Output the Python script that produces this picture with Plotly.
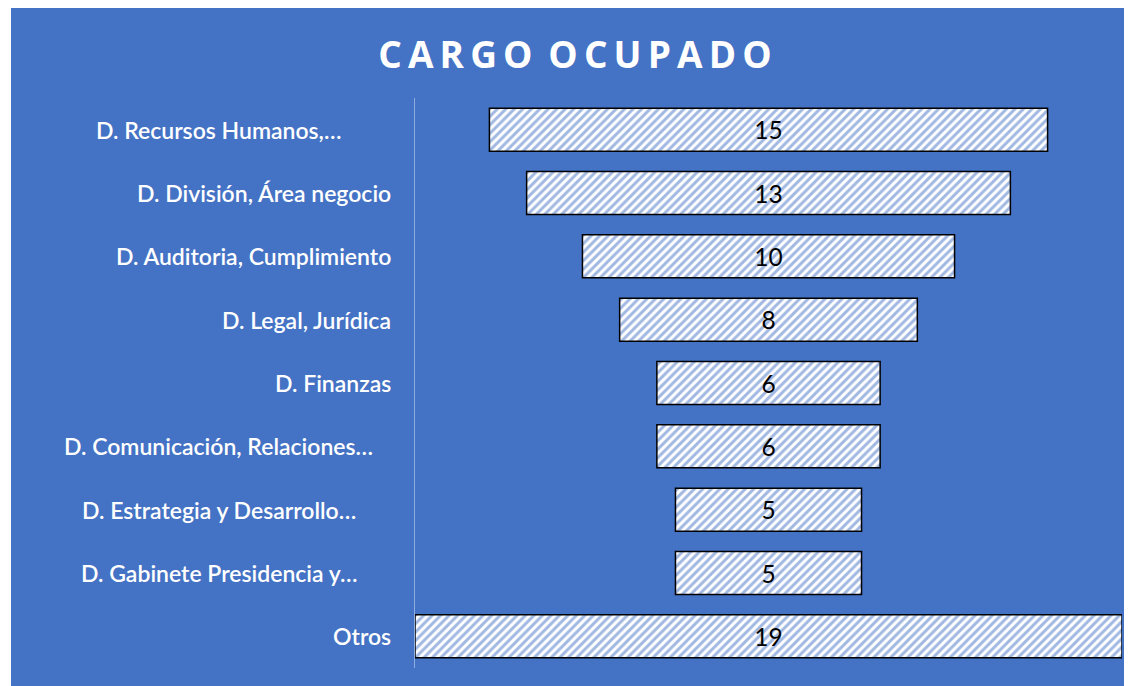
import plotly.graph_objects as go

categories = ["D. Recursos Humanos,…", "D. División, Área negocio", "D. Auditoria, Cumplimiento",
              "D. Legal, Jurídica", "D. Finanzas", "D. Comunicación, Relaciones…",
              "D. Estrategia y Desarrollo…", "D. Gabinete Presidencia y…", "Otros"]
values = [15, 13, 10, 8, 6, 6, 5, 5, 19]
title_text = "CARGO OCUPADO"

BLUE = "#4472C4"
W, H = 1124, 678
L, R, T, B = 407, 10, 90, 18
pw, ph = W - L - R, H - T - B

fig = go.Figure(go.Bar(
    y=categories, x=values, base=[-v / 2 for v in values], orientation="h",
    text=[str(v) for v in values], textposition="inside", insidetextanchor="middle",
    textangle=0, constraintext="none",
    textfont=dict(family="Lato", size=24.5, color="black"),
    marker=dict(color="white", line=dict(color="black", width=1.5),
                pattern=dict(shape="/", fgcolor=BLUE, bgcolor="white", size=6, solidity=0.5,
                             fillmode="overlay")),
    hoverinfo="skip", cliponaxis=False,
))

fig.add_shape(type="rect", xref="paper", yref="paper", layer="below",
              x0=(3 - L) / pw, x1=(W - L) / pw + 0.01,
              y0=-(B + 5) / ph, y1=(H - B + 1) / ph,
              fillcolor=BLUE, line=dict(width=0))

# category labels: full labels right-aligned, truncated labels centred (as in the source)
for c in categories:
    if c.endswith("…"):
        fig.add_annotation(x=(211 - L) / pw, xref="paper", xanchor="center", y=c, yref="y",
                           text=c, showarrow=False,
                           font=dict(family="Lato", size=23, color="white", weight=600))
    else:
        fig.add_annotation(x=(385 - L) / pw, xref="paper", xanchor="right", y=c, yref="y",
                           text=c, showarrow=False,
                           font=dict(family="Lato", size=23, color="white", weight=600))

spaced_title = "\u2009".join(list(title_text)).replace("\u2009 \u2009", " \u2009")

max_v = max(values)
fig.update_layout(
    width=W, height=H,
    margin=dict(l=L, r=R, t=T, b=B, pad=0),
    paper_bgcolor="white", plot_bgcolor=BLUE,
    showlegend=False, bargap=0.32,
    title=dict(text="<b>" + spaced_title + "</b>", x=567 / W, xanchor="center", xref="container",
               y=1 - 47 / H, yanchor="middle", yref="container",
               font=dict(family="Open Sans", size=37, color="white")),
    xaxis=dict(range=[-max_v / 2, max_v / 2], visible=False, fixedrange=True),
    yaxis=dict(autorange="reversed", showgrid=False, zeroline=False,
               showline=True, linecolor="#8FAADC", linewidth=1,
               ticks="", showticklabels=False),
)
fig.write_html("out.html")
